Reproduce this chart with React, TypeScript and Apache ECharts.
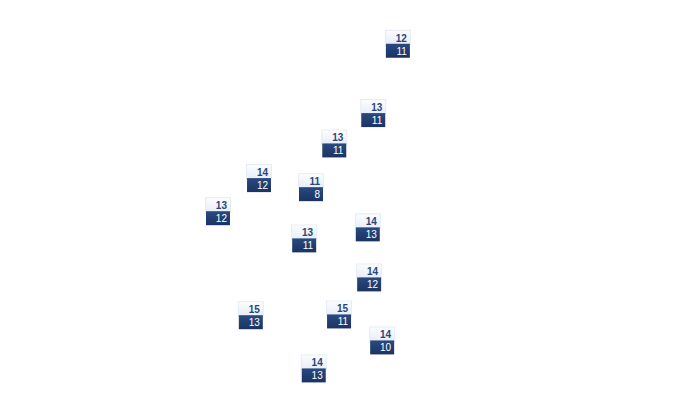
import React, { useEffect, useRef } from "react";
import * as echarts from "echarts";

// Position of each marker on a 0–100 scale (x: left→right, y: bottom→top)
const xValues = [57.0, 53.4, 47.7, 36.7, 44.3, 30.7, 43.3, 52.6, 52.8, 35.5, 48.4, 54.7, 44.7];
const yValues = [90.8, 73.2, 65.5, 56.7, 54.4, 48.3, 41.4, 44.2, 31.5, 21.9, 22.1, 15.5, 8.4];
// Upper (light) value and lower (dark) value of each marker
const topValues = [12, 13, 13, 14, 11, 13, 13, 14, 14, 15, 15, 14, 14];
const bottomValues = [11, 11, 11, 12, 8, 12, 11, 13, 12, 13, 11, 10, 13];

export default function App() {
  const ref = useRef<HTMLDivElement>(null);
  useEffect(() => {
    if (!ref.current) return;
    const chart = echarts.init(ref.current, null, { renderer: "svg" });
    const data = xValues.map((x, i) => [x, yValues[i], topValues[i], bottomValues[i]]);
    chart.setOption({
      animation: false,
      grid: { left: 0, right: 0, top: 0, bottom: 0 },
      xAxis: { type: "value", min: 0, max: 100, show: false },
      yAxis: { type: "value", min: 0, max: 100, show: false },
      series: [
        {
          type: "scatter",
          symbolSize: 0,
          itemStyle: { opacity: 1 },
          data,
          label: {
            show: true,
            position: "inside",
            formatter: (p: any) => `{a|${p.value[2]}}\n{b|${p.value[3]}}`,
            rich: {
              a: {
                width: 19,
                height: 13,
                lineHeight: 13,
                padding: [1, 3, 0, 2],
                align: "right",
                fontFamily: "Liberation Sans, Arial, sans-serif",
                fontSize: 10,
                fontWeight: "bold",
                color: "#2a4577",
                borderColor: "#e6ecf4",
                borderWidth: 1,
                backgroundColor: new echarts.graphic.LinearGradient(0, 0, 0, 1, [
                  { offset: 0, color: "#fbfcfe" },
                  { offset: 1, color: "#e7eef8" },
                ]),
              },
              b: {
                width: 19,
                height: 13,
                lineHeight: 13,
                padding: [1, 3, 0, 2],
                align: "right",
                fontFamily: "Liberation Sans, Arial, sans-serif",
                fontSize: 10,
                color: "#ffffff",
                backgroundColor: new echarts.graphic.LinearGradient(0, 0, 0, 1, [
                  { offset: 0, color: "#294a80" },
                  { offset: 1, color: "#1b3363" },
                ]),
              },
            },
          },
        },
      ],
    });
    return () => chart.dispose();
  }, []);
  return <div ref={ref} style={{ width: 684, height: 394 }} />;
}
